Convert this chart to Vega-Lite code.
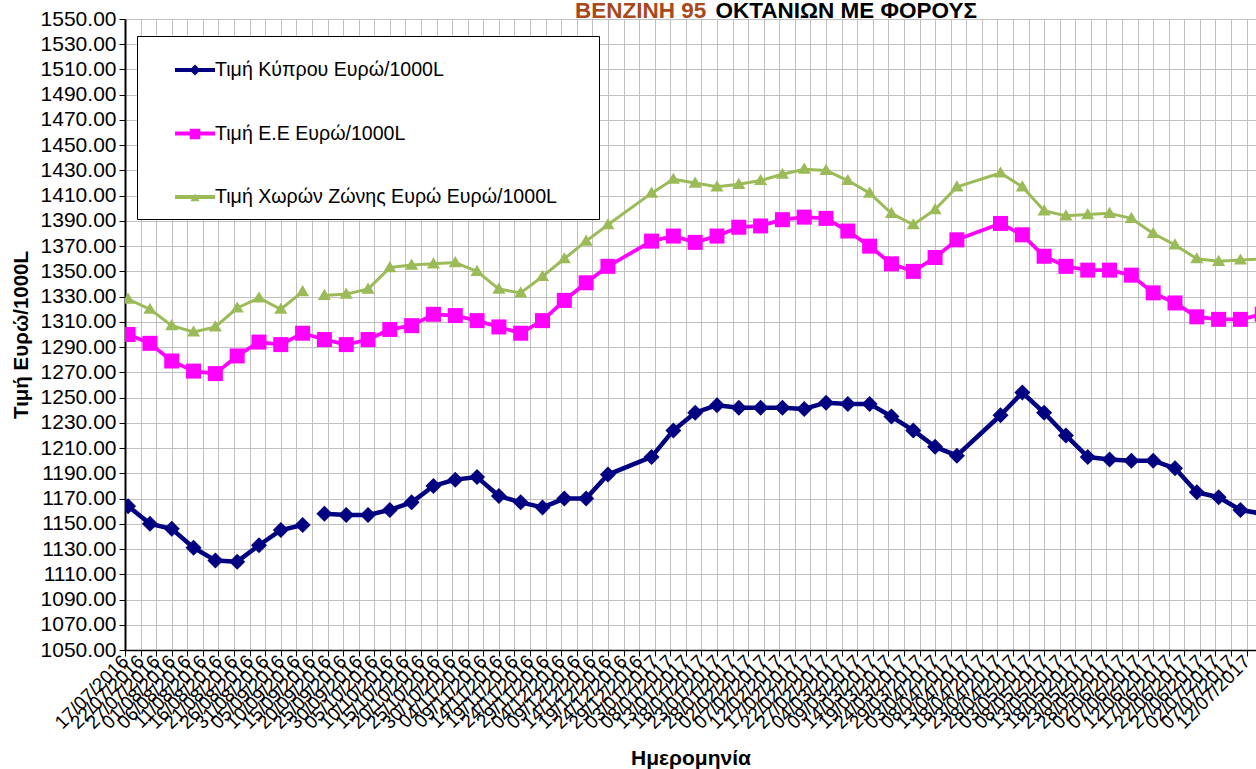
{
  "$schema": "https://vega.github.io/schema/vega-lite/v6.json",
  "autosize": {"type": "none"},
  "padding": {"left": 125, "top": 19, "right": 0, "bottom": 119},
  "width": 1131,
  "height": 631,
  "background": "white",
  "title": {
    "text": "ΒΕΝΖΙΝΗ 95",
    "anchor": "start",
    "frame": "group",
    "dx": 450,
    "offset": -23,
    "color": "#A9481B",
    "font": "Liberation Sans",
    "fontSize": 22.5,
    "fontWeight": "bold"
  },
  "config": {
    "view": {"stroke": null},
    "axis": {
      "labelFont": "Liberation Sans",
      "titleFont": "Liberation Sans",
      "labelColor": "black",
      "titleColor": "black",
      "domainColor": "black",
      "tickColor": "black",
      "gridColor": "#C0C0C0",
      "gridWidth": 1
    }
  },
  "data": {
    "values": [
      {"d": "2016-07-18", "cy": 1164, "eu": 1300, "ez": 1328},
      {"d": "2016-07-25", "cy": 1150, "eu": 1293, "ez": 1320},
      {"d": "2016-08-01", "cy": 1146, "eu": 1279, "ez": 1307},
      {"d": "2016-08-08", "cy": 1131, "eu": 1271, "ez": 1302},
      {"d": "2016-08-15", "cy": 1121, "eu": 1269, "ez": 1306},
      {"d": "2016-08-22", "cy": 1120, "eu": 1283, "ez": 1321},
      {"d": "2016-08-29", "cy": 1133, "eu": 1294, "ez": 1329},
      {"d": "2016-09-05", "cy": 1145, "eu": 1292, "ez": 1320},
      {"d": "2016-09-12", "cy": 1149, "eu": 1301, "ez": 1334},
      {"d": "2016-09-15", "cy": null, "ez": null},
      {"d": "2016-09-19", "cy": 1158, "eu": 1296, "ez": 1331},
      {"d": "2016-09-26", "cy": 1157, "eu": 1292, "ez": 1332},
      {"d": "2016-10-03", "cy": 1157, "eu": 1296, "ez": 1336},
      {"d": "2016-10-10", "cy": 1161, "eu": 1304, "ez": 1353},
      {"d": "2016-10-17", "cy": 1167, "eu": 1307, "ez": 1355},
      {"d": "2016-10-24", "cy": 1180, "eu": 1316, "ez": 1356},
      {"d": "2016-10-31", "cy": 1185, "eu": 1315, "ez": 1357},
      {"d": "2016-11-07", "cy": 1187, "eu": 1311, "ez": 1350},
      {"d": "2016-11-14", "cy": 1172, "eu": 1306, "ez": 1336},
      {"d": "2016-11-21", "cy": 1167, "eu": 1301, "ez": 1333},
      {"d": "2016-11-28", "cy": 1163, "eu": 1311, "ez": 1346},
      {"d": "2016-12-05", "cy": 1170, "eu": 1327, "ez": 1360},
      {"d": "2016-12-12", "cy": 1170, "eu": 1341, "ez": 1374},
      {"d": "2016-12-19", "cy": 1189, "eu": 1354, "ez": 1387},
      {"d": "2017-01-02", "cy": 1203, "eu": 1374, "ez": 1412},
      {"d": "2017-01-09", "cy": 1224, "eu": 1378, "ez": 1423},
      {"d": "2017-01-16", "cy": 1238, "eu": 1373, "ez": 1420},
      {"d": "2017-01-23", "cy": 1244, "eu": 1378, "ez": 1417},
      {"d": "2017-01-30", "cy": 1242, "eu": 1385, "ez": 1419},
      {"d": "2017-02-06", "cy": 1242, "eu": 1386, "ez": 1422},
      {"d": "2017-02-13", "cy": 1242, "eu": 1391, "ez": 1427},
      {"d": "2017-02-20", "cy": 1241, "eu": 1393, "ez": 1431},
      {"d": "2017-02-27", "cy": 1246, "eu": 1392, "ez": 1430},
      {"d": "2017-03-06", "cy": 1245, "eu": 1382, "ez": 1422},
      {"d": "2017-03-13", "cy": 1245, "eu": 1370, "ez": 1412},
      {"d": "2017-03-20", "cy": 1235, "eu": 1356, "ez": 1396},
      {"d": "2017-03-27", "cy": 1224, "eu": 1350, "ez": 1387},
      {"d": "2017-04-03", "cy": 1211, "eu": 1361, "ez": 1399},
      {"d": "2017-04-10", "cy": 1204, "eu": 1375, "ez": 1417},
      {"d": "2017-04-24", "cy": 1236, "eu": 1388, "ez": 1428},
      {"d": "2017-05-01", "cy": 1254, "eu": 1379, "ez": 1417},
      {"d": "2017-05-08", "cy": 1238, "eu": 1362, "ez": 1398},
      {"d": "2017-05-15", "cy": 1220, "eu": 1354, "ez": 1394},
      {"d": "2017-05-22", "cy": 1203, "eu": 1351, "ez": 1395},
      {"d": "2017-05-29", "cy": 1201, "eu": 1351, "ez": 1396},
      {"d": "2017-06-05", "cy": 1200, "eu": 1347, "ez": 1392},
      {"d": "2017-06-12", "cy": 1200, "eu": 1333, "ez": 1380},
      {"d": "2017-06-19", "cy": 1194, "eu": 1325, "ez": 1371},
      {"d": "2017-06-26", "cy": 1175, "eu": 1314, "ez": 1360},
      {"d": "2017-07-03", "cy": 1171, "eu": 1312, "ez": 1358},
      {"d": "2017-07-10", "cy": 1161, "eu": 1312, "ez": 1359},
      {"d": "2017-07-17", "cy": 1158, "eu": 1316, "ez": 1360}
    ]
  },
  "transform": [
    {"fold": ["cy", "eu", "ez"], "as": ["s", "v"]},
    {"filter": "isValid(datum.v) || datum.s != 'eu'"}
  ],
  "encoding": {
    "y": {
      "field": "v",
      "type": "quantitative",
      "scale": {"domain": [1050, 1550], "nice": false, "zero": false},
      "axis": {
        "title": "Τιμή Ευρώ/1000L",
        "titleFontSize": 20.5,
        "titleFontWeight": "bold",
        "titlePadding": 9,
        "format": ".2f",
        "labelFontSize": 21,
        "labelPadding": 3,
        "tickSize": 6,
        "domainWidth": 2,
        "grid": true,
        "values": [1050, 1070, 1090, 1110, 1130, 1150, 1170, 1190, 1210, 1230, 1250, 1270, 1290, 1310, 1330, 1350, 1370, 1390, 1410, 1430, 1450, 1470, 1490, 1510, 1530, 1550]
      }
    }
  },
  "layer": [
    {
      "mark": {"type": "line", "clip": true, "strokeJoin": "round"},
      "encoding": {
        "x": {
          "field": "d",
          "type": "temporal",
          "scale": {"type": "utc", "domain": [1468713600000, 1500076800000]},
          "axis": {
            "title": "Ημερομηνία",
            "titleFontSize": 21,
            "titleFontWeight": "bold",
            "titlePadding": 15,
            "labelExpr": "utcFormat(datum.value, '%d/%m/%Y')",
            "labelAngle": -45,
            "labelAlign": "right",
            "labelBaseline": "middle",
            "labelFontSize": 19,
            "labelOverlap": false,
            "labelPadding": 2,
            "labelBound": false,
            "labelFlush": false,
            "tickSize": 6,
            "domainWidth": 1.5,
            "grid": true,
            "values": [1468713600000, 1469145600000, 1469577600000, 1470009600000, 1470441600000, 1470873600000, 1471305600000, 1471737600000, 1472169600000, 1472601600000, 1473033600000, 1473465600000, 1473897600000, 1474329600000, 1474761600000, 1475193600000, 1475625600000, 1476057600000, 1476489600000, 1476921600000, 1477353600000, 1477785600000, 1478217600000, 1478649600000, 1479081600000, 1479513600000, 1479945600000, 1480377600000, 1480809600000, 1481241600000, 1481673600000, 1482105600000, 1482537600000, 1482969600000, 1483401600000, 1483833600000, 1484265600000, 1484697600000, 1485129600000, 1485561600000, 1485993600000, 1486425600000, 1486857600000, 1487289600000, 1487721600000, 1488153600000, 1488585600000, 1489017600000, 1489449600000, 1489881600000, 1490313600000, 1490745600000, 1491177600000, 1491609600000, 1492041600000, 1492473600000, 1492905600000, 1493337600000, 1493769600000, 1494201600000, 1494633600000, 1495065600000, 1495497600000, 1495929600000, 1496361600000, 1496793600000, 1497225600000, 1497657600000, 1498089600000, 1498521600000, 1498953600000, 1499385600000, 1499817600000]
          }
        },
        "color": {
          "field": "s",
          "type": "nominal",
          "scale": {"domain": ["cy", "eu", "ez"], "range": ["#000080", "#FF00FF", "#9BBB59"]},
          "legend": {
            "orient": "none",
            "legendX": 12,
            "legendY": 17,
            "zindex": 1,
            "title": null,
            "padding": 12,
            "symbolOffset": 24,
            "symbolType": "stroke",
            "symbolSize": 1600,
            "symbolStrokeWidth": 4,
            "rowPadding": 31.5,
            "labelOffset": -2,
            "labelFont": "Liberation Sans",
            "labelFontSize": 19.6,
            "labelColor": "black",
            "labelLimit": 1000,
            "fillColor": "white",
            "strokeColor": "black",
            "labelExpr": "datum.value == 'cy' ? 'Τιμή Κύπρου Ευρώ/1000L' : datum.value == 'eu' ? 'Τιμή Ε.Ε Ευρώ/1000L' : 'Τιμή Χωρών Ζώνης Ευρώ Ευρώ/1000L\u2800\u2800'"
          }
        },
        "strokeWidth": {"field": "s", "type": "nominal", "scale": {"range": [4.5, 3]}, "legend": null}
      }
    },
    {
      "mark": {"type": "point", "filled": true, "opacity": 1, "clip": true, "size": 3265},
      "encoding": {
        "x": {
          "field": "d",
          "type": "temporal",
          "scale": {"type": "utc", "domain": [1468713600000, 1500076800000]},
          "axis": {
            "orient": "top",
            "labels": false,
            "ticks": false,
            "domain": false,
            "grid": false,
            "title": "ΟΚΤΑΝΙΩΝ ΜΕ ΦΟΡΟΥΣ",
            "titleFont": "Liberation Sans",
            "titleFontSize": 22.5,
            "titleFontWeight": "bold",
            "titleColor": "black",
            "titleAlign": "left",
            "titleAnchor": "start",
            "titleBaseline": "alphabetic",
            "titleX": 590,
            "titleY": -2,
            "titleAngle": 0
          }
        },
        "fill": {
          "field": "s",
          "type": "nominal",
          "scale": {"range": ["#000080", "#FF00FF", "#9BBB59"]},
          "legend": {
            "orient": "none",
            "legendX": 12,
            "legendY": 17,
            "zindex": 2,
            "title": null,
            "padding": 12,
            "symbolOffset": 24,
            "symbolSize": 1600,
            "symbolStrokeWidth": 4,
            "symbolStrokeColor": "transparent",
            "rowPadding": 28,
            "labelOffset": -2,
            "labelFontSize": 19.6,
            "labelOpacity": 0,
            "labelExpr": "''"
          }
        },
        "shape": {
          "field": "s",
          "type": "nominal",
          "scale": {"range": ["M0,-0.28L0.28,0L0,0.28L-0.28,0Z", "M-0.2625,-0.2625H0.2625V0.2625H-0.2625Z", "M0,-0.23L0.23,0.16L-0.23,0.16Z"]},
          "legend": {
            "orient": "none",
            "legendX": 12,
            "legendY": 17,
            "zindex": 2,
            "title": null,
            "padding": 12,
            "symbolOffset": 24,
            "symbolSize": 1600,
            "symbolStrokeWidth": 4,
            "symbolStrokeColor": "transparent",
            "rowPadding": 28,
            "labelOffset": -2,
            "labelFontSize": 19.6,
            "labelOpacity": 0,
            "labelExpr": "''"
          }
        }
      }
    }
  ],
  "resolve": {"axis": {"x": "independent"}}
}
